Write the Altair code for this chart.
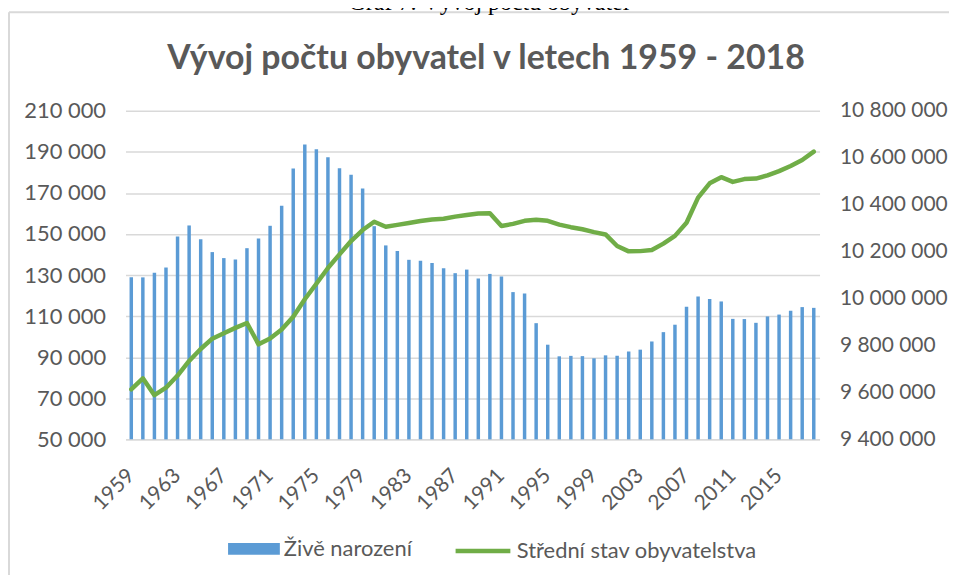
import altair as alt
import pandas as pd

years = list(range(1959, 2019))
births = [128880, 128879, 131096, 133676, 148771, 154153, 147442, 141189, 138264, 137616,
          143091, 147865, 153994, 163765, 181866, 193548, 191316, 187413, 181995, 178901,
          172112, 153801, 144438, 141738, 137431, 136941, 135881, 133356, 130921, 132667,
          128356, 130564, 129354, 121705, 121025, 106579, 96097, 90446, 90657, 90535,
          89471, 90910, 90715, 92786, 93685, 97664, 102211, 105831, 114632, 119570,
          118348, 117153, 108673, 108576, 106751, 109860, 110764, 112663, 114405, 114036]
population = [9613000, 9660000, 9588000, 9620000, 9672000, 9734000, 9785000, 9829000, 9852000, 9875000,
              9896000, 9805000, 9830000, 9868000, 9922000, 9997000, 10063000, 10130000, 10188000, 10245000,
              10292000, 10327000, 10306000, 10314000, 10322000, 10330000, 10337000, 10340000, 10349000, 10356000,
              10362000, 10363000, 10309000, 10318000, 10331000, 10336000, 10331000, 10315000, 10304000, 10295000,
              10283000, 10273000, 10224000, 10201000, 10202000, 10207000, 10234000, 10267000, 10323000, 10430000,
              10491000, 10517000, 10497000, 10509000, 10511000, 10525000, 10543000, 10565000, 10590000, 10626000]
label_years = list(range(1959, 2019, 4))
bar_name = "Živě narození"
line_name = "Střední stav obyvatelstva"
title_text = "Vývoj počtu obyvatel v letech 1959 - 2018"
caption_text = "Graf 7: Vývoj počtu obyvatel"

df = pd.DataFrame({
    "rok": years,
    "narozeni": births,
    "obyvatele": population,
    "s_bar": [bar_name] * len(years),
    "s_line": [line_name] * len(years),
})

GREY = "#595959"
GRID = "#D9D9D9"
FONT = "Lato"
space_fmt = "replace(format(datum.value, ','), /,/g, ' ')"

x_enc = alt.X(
    "rok:O",
    scale=alt.Scale(paddingInner=0.7, paddingOuter=0.35),
    axis=alt.Axis(
        title=None, values=label_years, labelAngle=-45, labelAlign="right",
        labelBaseline="middle", labelFontSize=21, labelColor=GREY, labelFont=FONT,
        ticks=False, tickSize=0, labelPadding=33, domainColor=GRID, domainWidth=1.5,
        grid=False, labelOverlap=False,
    ),
)

bars = alt.Chart(df).mark_bar().encode(
    x=x_enc,
    y=alt.Y(
        "narozeni:Q",
        scale=alt.Scale(domain=[50000, 210000], nice=False, zero=False),
        axis=alt.Axis(
            title=None, values=list(range(50000, 210001, 20000)), labelExpr=space_fmt,
            labelFontSize=22, labelColor=GREY, labelFont=FONT, ticks=False, tickSize=0,
            labelPadding=20, domain=False, grid=True, gridColor=GRID, gridWidth=1.5,
        ),
    ),
    y2=alt.datum(50000),
    fill=alt.Fill(
        "s_bar:N",
        scale=alt.Scale(domain=[bar_name], range=["#5B9BD5"]),
        legend=alt.Legend(
            title=None, orient="none", legendX=103, legendY=414,
            symbolType="M-1,-0.23H1V0.23H-1Z", symbolSize=2704, symbolStrokeWidth=0,
            labelFontSize=22, labelColor=GREY, labelFont=FONT, labelOffset=4, labelLimit=400,
        ),
    ),
)

line = alt.Chart(df).mark_line(strokeWidth=4.5, strokeJoin="round", strokeCap="round").encode(
    x=x_enc,
    y=alt.Y(
        "obyvatele:Q",
        scale=alt.Scale(domain=[9400000, 10800000], nice=False, zero=False),
        axis=alt.Axis(
            title=None, orient="right", values=list(range(9400000, 10800001, 200000)),
            labelExpr=space_fmt, labelFontSize=21, labelColor=GREY, labelFont=FONT,
            ticks=False, tickSize=0, labelPadding=20, domain=False, grid=False,
        ),
    ),
    stroke=alt.Stroke(
        "s_line:N",
        scale=alt.Scale(domain=[line_name], range=["#70AD47"]),
        legend=alt.Legend(
            title=None, orient="none", legendX=329, legendY=412,
            symbolType="stroke", symbolSize=3025, symbolStrokeWidth=4.5,
            labelFontSize=22, labelColor=GREY, labelFont=FONT, labelOffset=4, labelLimit=400,
        ),
    ),
)

frame_top = alt.Chart(df.head(1)).mark_rule(color=GRID, strokeWidth=2).encode(
    x=alt.value(-117), x2=alt.value(860), y=alt.value(-99)
)
frame_left = alt.Chart(df.head(1)).mark_rule(color=GRID, strokeWidth=2).encode(
    x=alt.value(-117), y=alt.value(-99), y2=alt.value(480)
)
caption = alt.Chart(pd.DataFrame({"t": [caption_text]})).mark_text(
    font="Liberation Serif", fontSize=24, color="#000000", align="center", baseline="alphabetic"
).encode(text="t:N", x=alt.value(365), y=alt.value(-101))
title = alt.Chart(pd.DataFrame({"t": [title_text]})).mark_text(
    font=FONT, fontSize=34, fontWeight="bold", color=GREY, align="center", baseline="alphabetic"
).encode(text="t:N", x=alt.value(362), y=alt.value(-42))

chart = alt.layer(frame_top, frame_left, caption, title, bars, line).resolve_scale(
    y="independent", fill="independent", stroke="independent"
).properties(
    width=697,
    height=330,
    padding={"left": 118, "top": 102, "right": 130, "bottom": 135},
    autosize=alt.AutoSizeParams(type="none"),
).configure_view(stroke=None)

chart.save("out.html", embed_options={"renderer": "svg", "actions": False})
